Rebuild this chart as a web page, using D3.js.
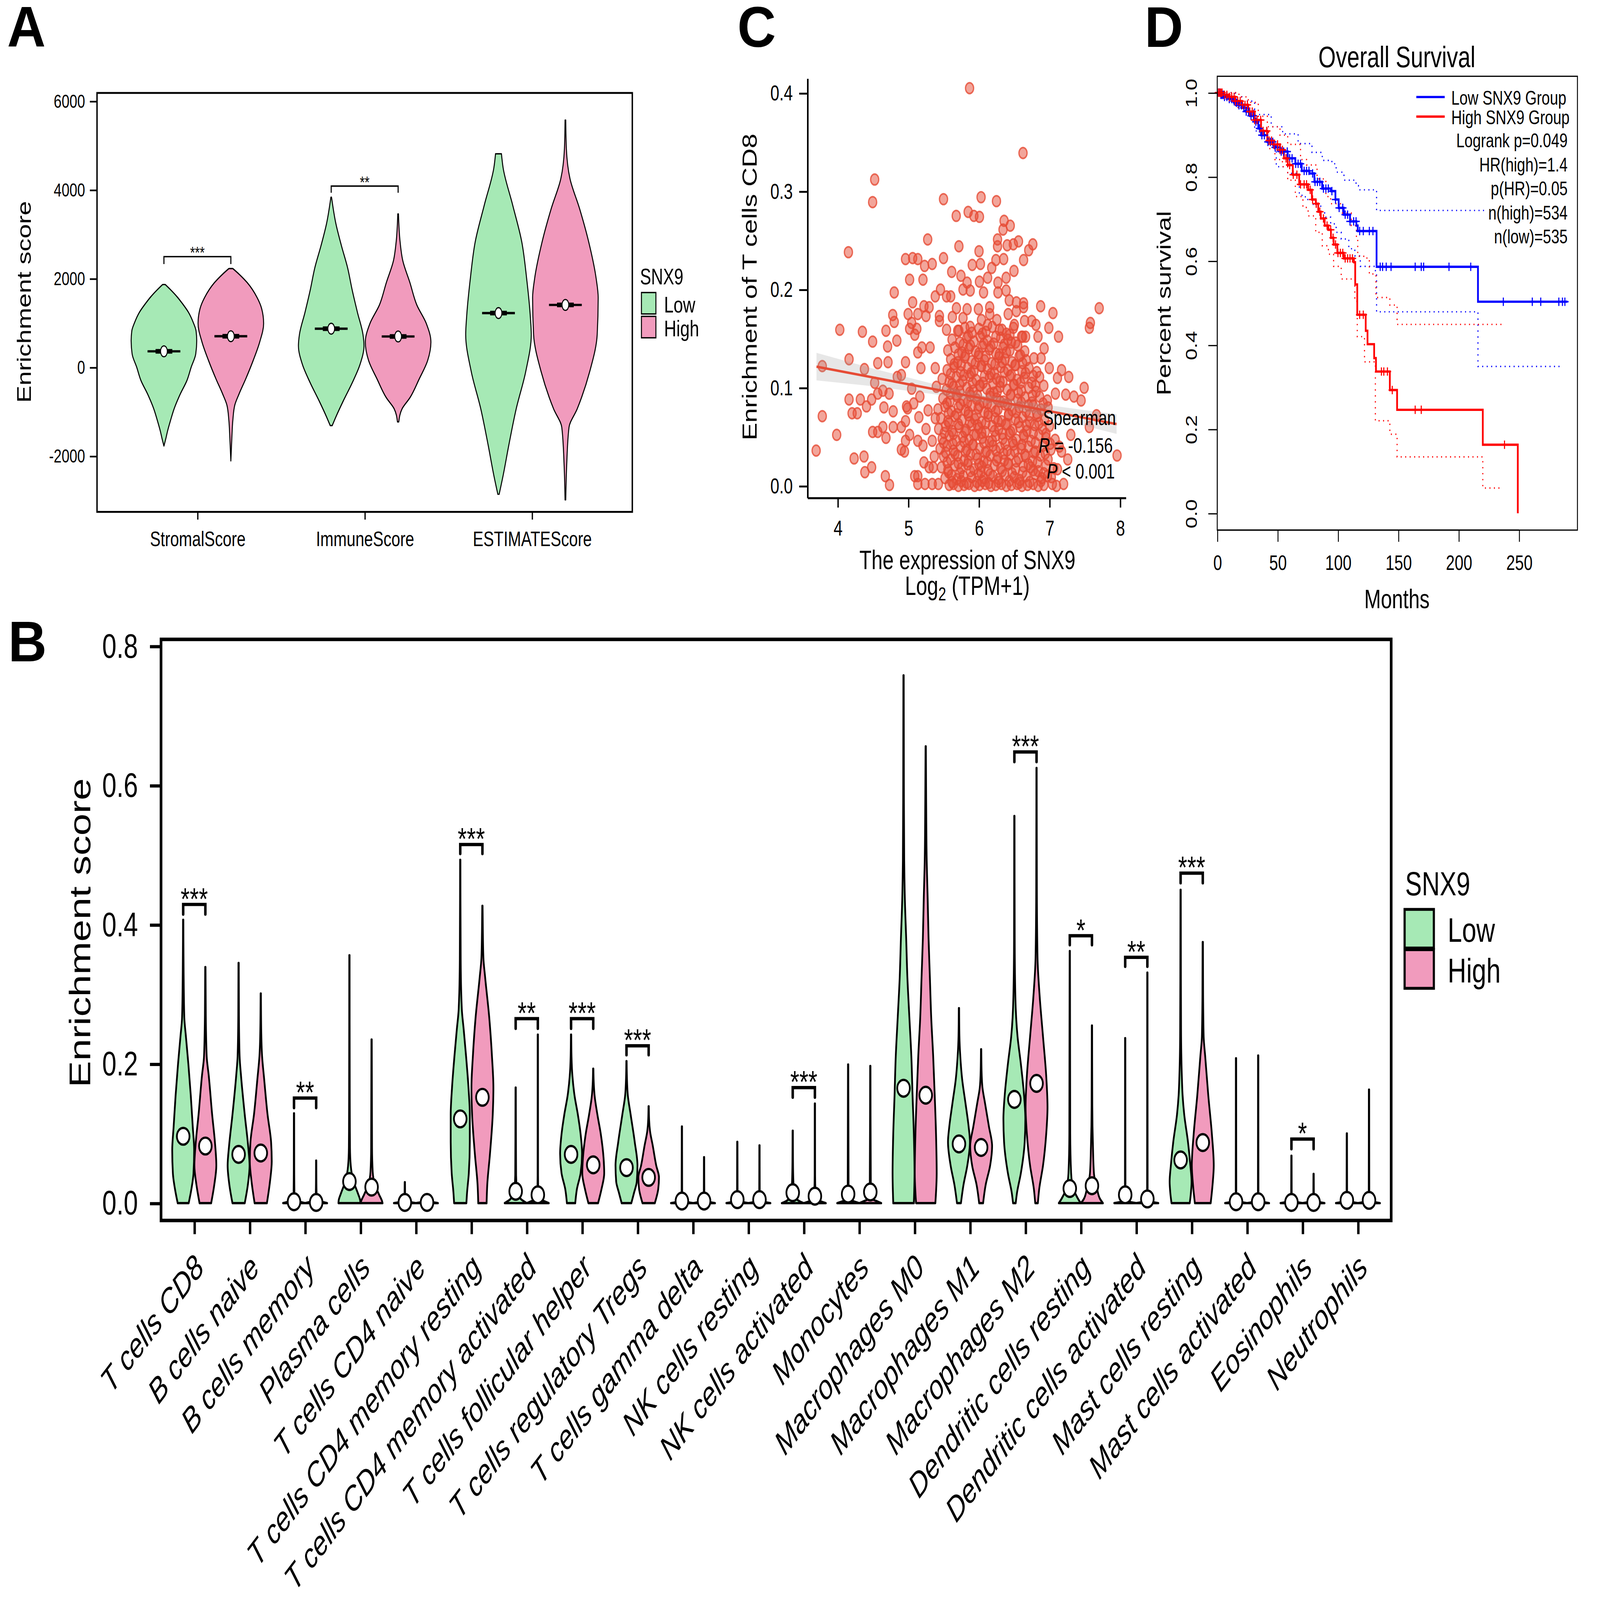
<!DOCTYPE html>
<html>
<head>
<meta charset="utf-8">
<title>SNX9 and immune infiltration</title>
<script src="https://cdn.jsdelivr.net/npm/d3@7/dist/d3.min.js"></script>
<style>
  html, body { margin: 0; padding: 0; background: #fff; overflow: hidden; }
  #figure svg { display: block; width: 100vw; height: 100vh; }
  svg text { font-family: "Liberation Sans", Arial, Helvetica, sans-serif; }
</style>
</head>
<body>
<div id="figure"></div>
<script>
// ---------------- panel A : ESTIMATE scores ----------------
const scoreTypes = ["StromalScore", "ImmuneScore", "ESTIMATEScore"];
const groups = ["Low", "High"];
const groupColors = ["#a6e9b5", "#f19bbd"];
const aTicks = [-2000, 0, 2000, 4000, 6000];

// violin outlines: [score, relative half width]
const stromalLow   = [[-1774,0],[-1600,0.06],[-1439,0.11],[-1200,0.2],[-937,0.31],[-600,0.5],[-300,0.7],[0,0.83],[300,0.97],[600,1],[820,0.98],[1000,0.9],[1238,0.75],[1450,0.55],[1573,0.42],[1750,0.2],[1866,0.04]];
const stromalHigh  = [[-2109,0],[-1600,0.03],[-1200,0.06],[-853,0.12],[-602,0.25],[-268,0.45],[151,0.68],[569,0.88],[987,1],[1322,0.94],[1573,0.8],[1908,0.5],[2100,0.25],[2226,0.06]];
const immuneLow    = [[-1314,0.03],[-1105,0.15],[-770,0.36],[-351,0.64],[67,0.88],[485,1],[736,0.97],[1238,0.8],[1741,0.64],[2243,0.5],[2745,0.31],[3247,0.14],[3833,0.01]];
const immuneHigh   = [[-1230,0.02],[-937,0.12],[-686,0.36],[-268,0.64],[151,0.9],[569,1],[987,0.86],[1406,0.57],[1908,0.36],[2410,0.14],[2828,0.06],[3456,0.01]];
const estimateLow  = [[-2862,0.02],[-2444,0.14],[-1774,0.31],[-937,0.54],[-100,0.83],[736,1],[1155,0.97],[1992,0.86],[2828,0.71],[3665,0.43],[4502,0.14],[4812,0.09]];
const estimateHigh = [[-2988,0.01],[-2193,0.04],[-1356,0.11],[-937,0.36],[-100,0.74],[736,0.97],[1573,1],[1992,0.94],[2828,0.71],[3582,0.43],[4251,0.14],[4920,0.03],[5573,0.01]];
const aMediansLow  = [360, 870, 1222];
const aMediansHigh = [700, 695, 1406];
const aSigScore = ["StromalScore", "ImmuneScore"];
const aSigLabel = ["***", "**"];
const aSigTop   = [2494, 4084];
const aSigLeg   = [2326, 3933];

// ---------------- panel B : CIBERSORT cell types ----------------
const cellTypes = ["T cells CD8","B cells naive","B cells memory","Plasma cells","T cells CD4 naive",
  "T cells CD4 memory resting","T cells CD4 memory activated","T cells follicular helper",
  "T cells regulatory Tregs","T cells gamma delta","NK cells resting","NK cells activated",
  "Monocytes","Macrophages M0","Macrophages M1","Macrophages M2","Dendritic cells resting",
  "Dendritic cells activated","Mast cells resting","Mast cells activated","Eosinophils","Neutrophils"];
const bTicks = [0, 0.2, 0.4, 0.6, 0.8];
const bLowProfiles = [
  [[0,0.5],[0.015,0.69],[0.043,0.94],[0.076,1],[0.11,0.87],[0.155,0.69],[0.2,0.47],[0.239,0.25],[0.267,0.1],[0.33,0.04],[0.407,0.015]],
  [[0,0.56],[0.026,0.84],[0.054,1],[0.082,0.87],[0.127,0.56],[0.183,0.22],[0.211,0.09],[0.27,0.03],[0.345,0.015]],
  [[0,1],[0.002,0.5],[0.005,0.12],[0.012,0.04],[0.05,0.02],[0.129,0.015]],
  [[0,1],[0.004,0.98],[0.015,0.75],[0.031,0.38],[0.054,0.12],[0.08,0.05],[0.15,0.03],[0.356,0.015]],
  [[0,1],[0.001,0.6],[0.003,0.1],[0.008,0.03],[0.03,0.015]],
  [[0,0.56],[0.015,0.62],[0.043,0.78],[0.088,0.87],[0.127,0.87],[0.166,0.75],[0.211,0.53],[0.25,0.31],[0.279,0.14],[0.35,0.04],[0.493,0.015]],
  [[0,1],[0.002,0.8],[0.006,0.47],[0.02,0.12],[0.04,0.04],[0.166,0.015]],
  [[0,0.38],[0.02,0.53],[0.043,0.87],[0.071,1],[0.099,0.87],[0.127,0.62],[0.155,0.31],[0.183,0.12],[0.21,0.04],[0.242,0.015]],
  [[0,0.44],[0.015,0.69],[0.031,0.94],[0.054,1],[0.088,0.75],[0.127,0.38],[0.155,0.12],[0.18,0.04],[0.204,0.015]],
  [[0,1],[0.001,0.6],[0.003,0.1],[0.01,0.025],[0.11,0.015]],
  [[0,1],[0.001,0.6],[0.003,0.1],[0.01,0.025],[0.088,0.015]],
  [[0,1],[0.002,0.7],[0.006,0.35],[0.015,0.15],[0.031,0.06],[0.06,0.025],[0.104,0.015]],
  [[0,1],[0.002,0.6],[0.005,0.15],[0.015,0.04],[0.199,0.015]],
  [[0,0.94],[0.043,1],[0.099,0.94],[0.155,0.82],[0.211,0.71],[0.267,0.53],[0.324,0.35],[0.38,0.24],[0.436,0.12],[0.492,0.06],[0.6,0.03],[0.758,0.015]],
  [[0,0.18],[0.026,0.41],[0.054,0.76],[0.088,1],[0.11,0.88],[0.144,0.59],[0.178,0.29],[0.211,0.12],[0.24,0.04],[0.28,0.015]],
  [[0,0.12],[0.015,0.24],[0.043,0.59],[0.088,0.94],[0.121,1],[0.155,0.88],[0.2,0.59],[0.239,0.29],[0.296,0.09],[0.38,0.03],[0.556,0.015]],
  [[0,1],[0.006,0.76],[0.02,0.35],[0.043,0.12],[0.1,0.04],[0.362,0.015]],
  [[0,1],[0.001,0.6],[0.003,0.1],[0.01,0.025],[0.237,0.015]],
  [[0,0.83],[0.015,0.94],[0.031,1],[0.054,0.89],[0.088,0.67],[0.127,0.33],[0.155,0.18],[0.183,0.11],[0.25,0.04],[0.45,0.015]],
  [[0,1],[0.001,0.6],[0.003,0.1],[0.01,0.025],[0.208,0.015]],
  [[0,1],[0.001,0.6],[0.003,0.1],[0.01,0.025],[0.068,0.015]],
  [[0,1],[0.001,0.6],[0.003,0.1],[0.01,0.025],[0.1,0.015]]
];
const bHighProfiles = [
  [[0,0.53],[0.026,0.81],[0.054,1],[0.088,0.87],[0.127,0.62],[0.183,0.31],[0.211,0.12],[0.27,0.04],[0.339,0.015]],
  [[0,0.56],[0.031,0.84],[0.06,1],[0.088,0.94],[0.127,0.62],[0.178,0.31],[0.211,0.12],[0.25,0.04],[0.301,0.015]],
  [[0,1],[0.002,0.5],[0.005,0.12],[0.012,0.04],[0.03,0.02],[0.061,0.015]],
  [[0,1],[0.003,0.95],[0.012,0.69],[0.026,0.31],[0.045,0.1],[0.08,0.04],[0.235,0.015]],
  [[0,1],[0.001,0.6],[0.002,0.1],[0.006,0.015]],
  [[0,0.38],[0.026,0.44],[0.071,0.69],[0.127,0.94],[0.166,1],[0.211,0.87],[0.267,0.62],[0.324,0.25],[0.352,0.09],[0.39,0.04],[0.427,0.015]],
  [[0,1],[0.002,0.7],[0.005,0.3],[0.012,0.06],[0.04,0.02],[0.242,0.015]],
  [[0,0.44],[0.02,0.75],[0.043,1],[0.065,0.94],[0.099,0.69],[0.127,0.38],[0.155,0.12],[0.175,0.04],[0.193,0.015]],
  [[0,0.56],[0.02,0.87],[0.037,0.94],[0.054,0.69],[0.082,0.38],[0.104,0.12],[0.12,0.04],[0.139,0.015]],
  [[0,1],[0.001,0.6],[0.003,0.1],[0.01,0.025],[0.066,0.015]],
  [[0,1],[0.001,0.6],[0.003,0.1],[0.01,0.025],[0.083,0.015]],
  [[0,1],[0.002,0.6],[0.005,0.2],[0.015,0.06],[0.04,0.02],[0.143,0.015]],
  [[0,1],[0.002,0.7],[0.006,0.2],[0.015,0.05],[0.197,0.015]],
  [[0,0.88],[0.043,1],[0.099,0.94],[0.155,0.82],[0.211,0.68],[0.267,0.5],[0.324,0.38],[0.38,0.26],[0.436,0.18],[0.492,0.09],[0.58,0.04],[0.656,0.015]],
  [[0,0.18],[0.026,0.41],[0.054,0.82],[0.082,1],[0.11,0.71],[0.144,0.35],[0.166,0.12],[0.19,0.04],[0.221,0.015]],
  [[0,0.12],[0.02,0.24],[0.054,0.59],[0.099,0.88],[0.138,1],[0.183,0.88],[0.239,0.59],[0.296,0.29],[0.352,0.09],[0.45,0.03],[0.625,0.015]],
  [[0,1],[0.006,0.74],[0.02,0.47],[0.043,0.18],[0.082,0.09],[0.14,0.03],[0.255,0.015]],
  [[0,1],[0.001,0.6],[0.003,0.1],[0.01,0.025],[0.331,0.015]],
  [[0,0.72],[0.026,0.89],[0.054,1],[0.099,0.83],[0.155,0.5],[0.211,0.22],[0.239,0.08],[0.3,0.03],[0.375,0.015]],
  [[0,1],[0.001,0.6],[0.003,0.1],[0.01,0.025],[0.212,0.015]],
  [[0,1],[0.001,0.6],[0.003,0.1],[0.01,0.025],[0.042,0.015]],
  [[0,1],[0.001,0.6],[0.003,0.1],[0.01,0.025],[0.163,0.015]]
];
const bLowMedians  = [0.096,0.07,0.002,0.031,0.001,0.121,0.017,0.07,0.051,0.003,0.005,0.015,0.013,0.165,0.085,0.149,0.021,0.012,0.062,0.002,0.001,0.004];
const bHighMedians = [0.082,0.072,0.001,0.023,0.001,0.152,0.012,0.055,0.037,0.003,0.005,0.01,0.016,0.155,0.08,0.172,0.025,0.006,0.087,0.002,0.001,0.004];
const bSigCell  = ["T cells CD8","B cells memory","T cells CD4 memory resting","T cells CD4 memory activated",
  "T cells follicular helper","T cells regulatory Tregs","NK cells activated","Macrophages M2",
  "Dendritic cells resting","Dendritic cells activated","Mast cells resting","Eosinophils"];
const bSigLabel = ["***","**","***","**","***","***","***","***","*","**","***","*"];
const bSigTop   = [0.429,0.151,0.515,0.265,0.265,0.226,0.166,0.648,0.384,0.353,0.474,0.092];
const bSigLeg   = [0.415,0.137,0.502,0.251,0.251,0.213,0.152,0.634,0.371,0.340,0.460,0.078];

// ---------------- panel C : SNX9 vs CD8 T cells ----------------
const cXTicks = [4, 5, 6, 7, 8];
const cYTicks = [0, 0.1, 0.2, 0.3, 0.4];
const cPoints = [
  [5.868,0.405],[6.625,0.339],[4.524,0.312],[4.495,0.289],[5.499,0.292],[6.031,0.294],[6.249,0.290],
  [5.679,0.275],[5.848,0.279],[5.929,0.275],[6.008,0.274],[6.357,0.270],[6.444,0.265],[6.342,0.261],
  [5.275,0.251],[6.264,0.251],[6.561,0.249],[6.401,0.245],[6.488,0.246],[6.764,0.246],[6.706,0.240],
  [4.152,0.238],[5.717,0.244],[6.264,0.244],[6.002,0.239],[4.961,0.231],[5.062,0.232],[5.135,0.231],
  [5.499,0.232],[6.241,0.230],[6.351,0.231],[6.633,0.230],[5.339,0.226],[5.231,0.224],[5.906,0.225],
  [6.022,0.226],[6.182,0.222],[6.497,0.219],[5.615,0.218],[5.746,0.214],[5.019,0.210],[5.208,0.210],
  [5.833,0.207],[6.008,0.208],[6.124,0.212],[6.386,0.212],[6.270,0.207],[4.801,0.197],[5.456,0.200],
  [5.775,0.200],[5.877,0.199],[6.066,0.197],[6.270,0.197],[6.386,0.199],[5.382,0.193],[5.542,0.193],
  [5.601,0.193],[5.062,0.187],[5.222,0.183],[5.295,0.182],[6.430,0.189],[6.532,0.187],[6.633,0.186],
  [6.633,0.182],[6.875,0.183],[7.049,0.176],[7.704,0.181],[5.682,0.181],[5.833,0.180],[5.993,0.180],
  [6.153,0.182],[4.780,0.174],[4.998,0.175],[5.135,0.175],[5.251,0.173],[5.441,0.173],[4.801,0.167],
  [5.048,0.166],[5.121,0.160],[5.019,0.160],[7.579,0.166],[7.565,0.161],[5.441,0.168],[5.624,0.172],
  [5.775,0.171],[6.037,0.169],[6.153,0.175],[6.255,0.169],[6.415,0.175],[6.531,0.178],[6.647,0.168],
  [6.749,0.168],[6.808,0.164],[6.991,0.161],[4.030,0.159],[4.350,0.157],[4.684,0.158],[5.092,0.154],
  [4.495,0.147],[4.838,0.148],[4.707,0.142],[7.128,0.152],[6.604,0.152],[6.662,0.152],[6.837,0.152],
  [5.542,0.159],[5.717,0.158],[5.877,0.162],[6.124,0.164],[6.328,0.159],[6.502,0.164],[4.161,0.129],
  [3.782,0.122],[4.379,0.119],[4.568,0.125],[4.713,0.126],[4.961,0.126],[5.193,0.141],[5.135,0.136],
  [5.309,0.141],[5.382,0.120],[5.179,0.120],[4.524,0.105],[4.640,0.097],[4.161,0.088],[4.321,0.088],
  [4.408,0.081],[4.481,0.088],[4.568,0.094],[4.204,0.074],[4.277,0.074],[3.782,0.071],[3.986,0.052],
  [3.695,0.036],[4.233,0.028],[4.373,0.030],[4.385,0.014],[4.481,0.019],[4.675,0.010],[4.734,0.001],
  [7.957,0.031],[7.491,0.100],[7.171,0.118],[7.273,0.111],[7.346,0.091],[7.448,0.087],[7.230,0.093],
  [6.997,0.120],[7.113,0.110],[7.084,0.094],[7.302,0.052],[7.564,0.060],[7.666,0.072],[7.171,0.035],
  [7.259,0.027],[7.113,0.017],[7.026,0.009],[7.200,0.002],[7.099,0.000],[6.924,0.140],[6.881,0.130],
  [4.844,0.111],[4.902,0.113],[4.728,0.094],[4.655,0.080],[4.786,0.076],[4.902,0.060],[4.961,0.066],
  [5.019,0.052],[4.495,0.055],[4.568,0.055],[4.684,0.049],[4.640,0.060],[4.786,0.060],[4.961,0.046],
  [4.902,0.037],[4.946,0.035],[5.091,0.010],[5.135,0.002],[5.237,0.002],[5.339,0.002],[5.426,0.002],
  [5.135,0.010],[5.222,0.024],[5.295,0.019],[5.353,0.019],[5.208,0.041],[5.135,0.046],[5.251,0.058],
  [5.150,0.070],[4.990,0.079],[5.077,0.084],[5.164,0.091],[5.048,0.099],[4.975,0.081],[5.397,0.101],
  [5.281,0.077],[5.382,0.069],[5.339,0.046],[5.368,0.030],
  // dense core
  [5.58,0.001],[5.64,0.002],[5.71,0.000],[5.79,0.001],[5.86,0.002],[5.94,0.000],[6.01,0.001],[6.09,0.002],
  [6.17,0.000],[6.24,0.001],[6.32,0.002],[6.39,0.000],[6.46,0.001],[6.54,0.002],[6.61,0.000],[6.69,0.001],
  [6.77,0.002],[6.84,0.000],[6.92,0.001],[7.04,0.002],
  [5.52,0.008],[5.61,0.011],[5.69,0.007],[5.78,0.010],[5.90,0.009],[5.99,0.012],[6.07,0.008],[6.20,0.010],
  [6.28,0.007],[6.37,0.011],[6.50,0.009],[6.58,0.006],[6.67,0.010],[6.80,0.012],[6.89,0.008],[6.97,0.010],
  [5.47,0.019],[5.56,0.016],[5.66,0.021],[5.75,0.018],[5.84,0.022],[5.93,0.017],[6.04,0.020],[6.13,0.016],
  [6.22,0.021],[6.31,0.018],[6.42,0.022],[6.52,0.017],[6.63,0.020],[6.73,0.019],[6.84,0.015],[6.95,0.021],[7.06,0.018],
  [5.50,0.030],[5.60,0.027],[5.70,0.031],[5.79,0.026],[5.88,0.032],[5.98,0.028],[6.07,0.025],[6.16,0.031],
  [6.27,0.029],[6.36,0.026],[6.45,0.032],[6.56,0.028],[6.66,0.030],[6.76,0.025],[6.87,0.031],[6.98,0.027],
  [5.45,0.038],[5.55,0.041],[5.64,0.036],[5.74,0.040],[5.83,0.037],[5.92,0.042],[6.01,0.038],[6.11,0.035],
  [6.20,0.041],[6.30,0.039],[6.40,0.036],[6.49,0.042],[6.60,0.038],[6.70,0.040],[6.80,0.035],[6.91,0.041],
  [7.02,0.037],[7.14,0.040],
  [5.48,0.048],[5.58,0.051],[5.68,0.046],[5.77,0.050],[5.86,0.047],[5.96,0.052],[6.05,0.049],[6.15,0.045],
  [6.24,0.051],[6.34,0.048],[6.43,0.053],[6.53,0.047],[6.64,0.050],[6.74,0.046],[6.85,0.052],[6.95,0.049],[7.08,0.047],
  [5.43,0.058],[5.53,0.061],[5.62,0.056],[5.72,0.060],[5.82,0.057],[5.90,0.062],[6.00,0.059],[6.09,0.055],
  [6.19,0.061],[6.28,0.058],[6.38,0.063],[6.48,0.057],[6.58,0.060],[6.68,0.056],[6.79,0.062],[6.90,0.058],[7.00,0.061],
  [5.46,0.069],[5.56,0.066],[5.66,0.071],[5.76,0.067],[5.85,0.072],[5.94,0.068],[6.04,0.065],[6.13,0.071],
  [6.23,0.069],[6.32,0.066],[6.42,0.072],[6.52,0.068],[6.62,0.070],[6.72,0.065],[6.83,0.071],[6.93,0.067],
  [5.42,0.078],[5.52,0.081],[5.61,0.076],[5.71,0.080],[5.81,0.077],[5.90,0.082],[5.99,0.079],[6.08,0.075],
  [6.18,0.081],[6.27,0.078],[6.37,0.083],[6.47,0.077],[6.57,0.080],[6.67,0.076],[6.77,0.082],[6.88,0.078],[6.98,0.080],
  [5.49,0.089],[5.59,0.086],[5.69,0.091],[5.78,0.087],[5.88,0.092],[5.97,0.088],[6.06,0.085],[6.16,0.091],
  [6.25,0.089],[6.35,0.086],[6.45,0.092],[6.55,0.088],[6.65,0.090],[6.75,0.085],[6.86,0.091],[6.97,0.087],
  [5.54,0.098],[5.64,0.101],[5.73,0.096],[5.83,0.100],[5.92,0.097],[6.02,0.102],[6.11,0.099],[6.21,0.095],
  [6.30,0.101],[6.40,0.098],[6.50,0.103],[6.60,0.097],[6.71,0.100],[6.81,0.096],[6.92,0.102],
  [5.48,0.109],[5.58,0.106],[5.68,0.111],[5.77,0.107],[5.87,0.112],[5.96,0.108],[6.06,0.105],[6.15,0.111],
  [6.25,0.109],[6.34,0.106],[6.44,0.112],[6.54,0.108],[6.64,0.110],[6.75,0.105],[6.86,0.111],
  [5.55,0.118],[5.65,0.121],[5.74,0.116],[5.84,0.120],[5.93,0.117],[6.03,0.122],[6.12,0.119],[6.22,0.115],
  [6.31,0.121],[6.41,0.118],[6.51,0.123],[6.61,0.117],[6.71,0.120],[6.82,0.116],
  [5.60,0.129],[5.70,0.126],[5.80,0.131],[5.90,0.127],[5.99,0.132],[6.08,0.128],[6.18,0.125],[6.28,0.131],
  [6.37,0.129],[6.47,0.126],[6.57,0.132],[6.67,0.128],[6.78,0.130],
  [5.56,0.138],[5.66,0.141],[5.76,0.136],[5.86,0.140],[5.95,0.137],[6.05,0.142],[6.15,0.139],[6.24,0.135],
  [6.34,0.141],[6.44,0.138],[6.55,0.143],[6.65,0.137],
  [5.62,0.149],[5.73,0.146],[5.83,0.151],[5.93,0.147],[6.02,0.152],[6.12,0.148],[6.21,0.145],[6.31,0.151],
  [6.41,0.149],[6.52,0.146],[6.62,0.152],
  [5.70,0.158],[5.80,0.161],[5.90,0.156],[6.00,0.160],[6.10,0.157],[6.19,0.162],[6.29,0.159],[6.39,0.155],[6.49,0.161],
  // second layer of the core
  [5.62,0.004],[5.75,0.005],[5.83,0.003],[5.97,0.004],[6.05,0.005],[6.14,0.003],[6.28,0.004],[6.43,0.005],
  [6.57,0.003],[6.72,0.004],[6.88,0.005],
  [5.57,0.014],[5.73,0.013],[5.88,0.015],[6.03,0.014],[6.16,0.012],[6.33,0.015],[6.47,0.013],[6.62,0.014],
  [6.77,0.016],[6.92,0.013],
  [5.55,0.024],[5.71,0.023],[5.85,0.025],[6.00,0.022],[6.12,0.024],[6.25,0.026],[6.41,0.023],[6.53,0.025],
  [6.70,0.022],[6.83,0.024],
  [5.53,0.034],[5.66,0.033],[5.81,0.035],[5.96,0.032],[6.09,0.034],[6.24,0.036],[6.35,0.033],[6.51,0.035],
  [6.65,0.032],[6.78,0.034],[6.94,0.033],
  [5.50,0.044],[5.63,0.043],[5.79,0.045],[5.91,0.042],[6.07,0.044],[6.19,0.046],[6.37,0.043],[6.48,0.045],
  [6.61,0.042],[6.80,0.044],[7.01,0.043],
  [5.51,0.054],[5.64,0.053],[5.80,0.055],[5.93,0.052],[6.04,0.054],[6.22,0.056],[6.33,0.053],[6.45,0.055],
  [6.63,0.052],[6.77,0.054],[6.95,0.053],
  [5.58,0.064],[5.71,0.063],[5.87,0.065],[5.98,0.062],[6.10,0.064],[6.27,0.066],[6.40,0.063],[6.56,0.065],
  [6.67,0.062],[6.85,0.064],
  [5.57,0.074],[5.69,0.073],[5.85,0.075],[5.96,0.072],[6.13,0.074],[6.24,0.076],[6.42,0.073],[6.53,0.075],
  [6.71,0.072],[6.82,0.074],
  [5.55,0.084],[5.74,0.083],[5.84,0.085],[6.01,0.082],[6.12,0.084],[6.30,0.086],[6.41,0.083],[6.60,0.085],
  [6.70,0.082],[6.91,0.084],
  [5.60,0.094],[5.68,0.093],[5.87,0.095],[5.98,0.092],[6.16,0.094],[6.26,0.096],[6.45,0.093],[6.56,0.095],[6.76,0.092],
  [5.62,0.104],[5.73,0.103],[5.91,0.105],[6.01,0.102],[6.20,0.104],[6.30,0.106],[6.49,0.103],[6.59,0.105],[6.80,0.102],
  [5.60,0.114],[5.79,0.113],[5.89,0.115],[6.08,0.112],[6.17,0.114],[6.36,0.116],[6.46,0.113],[6.66,0.115],[6.77,0.112],
  [5.65,0.124],[5.75,0.123],[5.95,0.125],[6.04,0.122],[6.23,0.124],[6.33,0.126],[6.52,0.123],[6.62,0.125],
  [5.71,0.134],[5.81,0.133],[6.00,0.135],[6.10,0.132],[6.29,0.134],[6.39,0.136],[6.59,0.133],
  [5.78,0.144],[5.88,0.143],[6.07,0.145],[6.17,0.142],[6.36,0.144],[6.46,0.146],
  [5.85,0.153],[6.05,0.155],[6.24,0.152],[6.44,0.154]
];
const cFit  = [[3.7,0.1215],[7.95,0.063]];
const cBand = [[3.7,0.1075,0.1355],[4.5,0.1015,0.1195],[5.5,0.0922,0.1012],[6.0,0.0859,0.0939],
               [6.5,0.0785,0.0875],[7.0,0.0701,0.0821],[7.5,0.0612,0.0772],[7.95,0.053,0.073]];

// ---------------- panel D : overall survival ----------------
const dXTicks = [0, 50, 100, 150, 200, 250];
const dYTicks = [0, 0.2, 0.4, 0.6, 0.8, 1.0];
const lowKM = [[0,1],[3,0.995],[6,0.99],[10,0.985],[13,0.98],[15,0.976],[18,0.97],[20.5,0.964],[24,0.955],
  [27,0.945],[31,0.931],[34,0.915],[36.3,0.899],[41.5,0.883],[46.8,0.870],[52,0.860],[58.4,0.844],
  [64.7,0.831],[70,0.814],[76.3,0.808],[80.5,0.788],[86.9,0.772],[94.2,0.766],[97.9,0.746],[100.6,0.726],
  [104.8,0.710],[110,0.694],[115.3,0.684],[116.4,0.671],[132,0.586],[216,0.503],[290,0.503]];
const highKM = [[0,1],[5,0.995],[9.9,0.99],[15,0.98],[20.5,0.971],[25.7,0.955],[31,0.935],[36.3,0.909],
  [41.5,0.886],[46.8,0.877],[52,0.864],[55.3,0.844],[58.4,0.828],[62.6,0.805],[67.9,0.782],[75.3,0.769],
  [78.4,0.746],[81.6,0.736],[83.7,0.717],[85.8,0.701],[89,0.684],[92.1,0.674],[94.2,0.655],[96.4,0.639],
  [99.5,0.619],[104.8,0.606],[113.2,0.597],[114.3,0.544],[116,0.472],[123,0.434],[124.5,0.402],[130,0.369],
  [131.5,0.337],[143,0.293],[149,0.246],[220,0.163],[249,0.0]];
const lowUpper = [[0,1],[10,1],[15,0.99],[20.5,0.98],[31,0.948],[44.7,0.919],[54.2,0.902],[67,0.879],
  [78.5,0.858],[87,0.839],[95,0.831],[98.5,0.811],[105,0.792],[115,0.779],[117,0.769],[132,0.72],[223,0.72]];
const lowLower = [[0,1],[8,0.98],[14,0.97],[20.5,0.958],[31,0.909],[41.5,0.877],[48.9,0.824],[58.4,0.808],
  [68,0.756],[73,0.746],[79.5,0.730],[85.8,0.714],[89,0.704],[94,0.688],[98.5,0.668],[102.7,0.652],
  [109,0.629],[114,0.612],[118.5,0.587],[131,0.577],[132,0.479],[216,0.349],[285,0.349]];
const highUpper = [[0,1],[12,1],[18,0.99],[25.7,0.977],[34,0.944],[41.5,0.919],[52,0.899],[58.4,0.877],
  [69,0.841],[74,0.828],[82.7,0.795],[90,0.753],[94,0.736],[103.7,0.714],[111,0.684],[115.3,0.655],
  [116.4,0.611],[124,0.6],[126,0.569],[131.5,0.513],[143,0.495],[149,0.449],[237,0.449]];
const highLower = [[0,1],[8,0.98],[15,0.965],[25.7,0.948],[34,0.915],[42.6,0.867],[47.8,0.841],[54,0.824],
  [58.4,0.792],[64.7,0.753],[71,0.727],[75.3,0.707],[81.6,0.668],[87,0.636],[92.1,0.616],[96.4,0.587],
  [102.7,0.557],[114,0.504],[116,0.42],[122,0.36],[131,0.22],[143,0.188],[149,0.134],[220,0.06],[235,0.06]];
const lowCensor = [1,2,3,4,5,6,8,10,12,14,16,18,20,22,24,26,28,30,32,35,37,39,42,44,46,48,50,53,55,58,60,62,
  65,67,69,72,74,76,79,81,83,85,88,90,92,95,98,101,104,106,108,110,113,115,118,121,126,129,135,137,140,144,
  164,169,171,192,210,237,261,268,283,286,288];
const highCensor = [1,2,3,4,6,8,10,12,14,15,17,19,21,23,25,27,29,31,33,36,38,41,43,45,47,50,52,54,57,60,63,
  66,69,72,74,77,79,82,85,88,91,94,96,98,100,102,104,106,108,110,112,118,121,136,138,141,145,164,169,238];
const dLegend = ["Low SNX9 Group", "High SNX9 Group"];
const dStats = ["Logrank p=0.049", "HR(high)=1.4", "p(HR)=0.05", "n(high)=534", "n(low)=535"];

// ======================= drawing =======================
const SX = 0.81;            // the published figure is squeezed horizontally
const ix = v => v / SX;     // measured picture x -> inner x
const VW = 1560, VH = 1449.4;

const svg = d3.select("#figure").append("svg")
    .attr("viewBox", `0 0 ${VW} ${VH}`)
    .attr("preserveAspectRatio", "none");
svg.append("rect").attr("width", VW).attr("height", VH).attr("fill", "#fff");
const root = svg.append("g").attr("transform", `scale(${SX},1)`);

function violin(g, profile, cx, half, yScale, fill, sw) {
    const area = d3.area()
        .y(d => yScale(d[0]))
        .x0(d => cx - d[1] * half)
        .x1(d => cx + d[1] * half)
        .curve(d3.curveMonotoneY);
    g.append("path").attr("d", area(profile))
        .attr("fill", fill).attr("stroke", "#000")
        .attr("stroke-width", sw).attr("stroke-linejoin", "round");
}

function styleAxis(ax, size, sw) {
    ax.attr("font-size", size).attr("font-family", null);
    ax.selectAll(".tick line").attr("stroke-width", sw);
    ax.selectAll("text").attr("fill", "#000");
}

// ---------- A ----------
let vis = root.append("g");
const aLeft = ix(94.6), aRight = ix(616.5), aTop = 84.2, aBottom = 463.7;
const aX = d3.scalePoint().domain(scoreTypes).range([aLeft, aRight]).padding(0.6);
const aY = d3.scaleLinear().domain([-3259, 6184]).range([aBottom, aTop]);
const aDodge = aX.step() * 0.2;
const aProfiles = [[stromalLow, immuneLow, estimateLow], [stromalHigh, immuneHigh, estimateHigh]];
const aMedians = [aMediansLow, aMediansHigh];

scoreTypes.forEach((s, i) => {
    groups.forEach((grp, j) => {
        const cx = aX(s) + (j === 0 ? -aDodge : aDodge);
        violin(vis, aProfiles[j][i], cx, aDodge * 0.98, aY, groupColors[j], 1.2);
        const my = aY(aMedians[j][i]);
        vis.append("line")
            .attr("x1", cx - aX.step() * 0.098).attr("x2", cx + aX.step() * 0.098)
            .attr("y1", my).attr("y2", my)
            .attr("stroke", "#000").attr("stroke-width", 2.1);
        vis.append("rect")
            .attr("x", cx - aX.step() * 0.05).attr("width", aX.step() * 0.1)
            .attr("y", my - 2.1).attr("height", 4.2).attr("fill", "#000");
        vis.append("ellipse").attr("cx", cx).attr("cy", my)
            .attr("rx", ix(3.3)).attr("ry", 4.9)
            .attr("fill", "#fff").attr("stroke", "#000").attr("stroke-width", 1.1);
    });
});

aSigScore.forEach((s, i) => {
    const x1 = aX(s) - aDodge, x2 = aX(s) + aDodge;
    vis.append("path")
        .attr("d", `M${x1},${aY(aSigLeg[i])}V${aY(aSigTop[i])}H${x2}V${aY(aSigLeg[i])}`)
        .attr("fill", "none").attr("stroke", "#000").attr("stroke-width", 1.3);
    vis.append("text").attr("x", aX(s)).attr("y", aY(aSigTop[i]) + 1.5)
        .attr("text-anchor", "middle").attr("font-size", 15).text(aSigLabel[i]);
});

vis.append("rect").attr("x", aLeft).attr("y", aTop)
    .attr("width", aRight - aLeft).attr("height", aBottom - aTop)
    .attr("fill", "none").attr("stroke", "#000").attr("stroke-width", 1.7);

let ax = vis.append("g").attr("transform", `translate(${aLeft},0)`)
    .call(d3.axisLeft(aY).tickValues(aTicks).tickSize(ix(7)).tickPadding(ix(4.6)).tickFormat(d => String(d)));
ax.select(".domain").remove();
styleAxis(ax, 17, 1.5);

ax = vis.append("g").attr("transform", `translate(0,${aBottom})`)
    .call(d3.axisBottom(aX).tickSize(7).tickPadding(10.5));
ax.select(".domain").remove();
styleAxis(ax, 19, 1.5);

vis.append("text").attr("transform", `translate(${ix(30)},273.5) rotate(-90)`)
    .attr("text-anchor", "middle").attr("font-size", 23.5).text("Enrichment score");

vis.append("text").attr("x", ix(624)).attr("y", 257.7).attr("font-size", 20).text("SNX9");
groups.forEach((grp, j) => {
    const ky = [265, 286.6][j];
    vis.append("rect").attr("x", ix(625.4)).attr("y", ky)
        .attr("width", ix(14.1)).attr("height", 19.4)
        .attr("fill", groupColors[j]).attr("stroke", "#000").attr("stroke-width", 1.2);
    vis.append("text").attr("x", ix(647.5)).attr("y", [283, 304.7][j])
        .attr("font-size", 20.5).text(grp);
});

// ---------- B ----------
vis = root.append("g");
const bLeft = ix(157), bRight = ix(1356.4), bTop = 579.2, bBottom = 1105.6;
const bX = d3.scalePoint().domain(cellTypes).range([bLeft, bRight]).padding(0.6);
const bY = d3.scaleLinear().domain([-0.0249, 0.8097]).range([bBottom, bTop]);
const bDodge = bX.step() * 0.2;
const bProfiles = [bLowProfiles, bHighProfiles];
const bMedians = [bLowMedians, bHighMedians];

cellTypes.forEach((c, i) => {
    groups.forEach((grp, j) => {
        const cx = bX(c) + (j === 0 ? -bDodge : bDodge);
        violin(vis, bProfiles[j][i], cx, bDodge * 0.99, bY, groupColors[j], 2.1);
    });
});
cellTypes.forEach((c, i) => {
    groups.forEach((grp, j) => {
        const cx = bX(c) + (j === 0 ? -bDodge : bDodge);
        vis.append("circle").attr("cx", cx).attr("cy", bY(bMedians[j][i])).attr("r", 7.6)
            .attr("fill", "#fff").attr("stroke", "#000").attr("stroke-width", 2.1);
    });
});

bSigCell.forEach((c, i) => {
    const x1 = bX(c) - bDodge, x2 = bX(c) + bDodge;
    vis.append("path")
        .attr("d", `M${x1},${bY(bSigLeg[i])}V${bY(bSigTop[i])}H${x2}V${bY(bSigLeg[i])}`)
        .attr("fill", "none").attr("stroke", "#000").attr("stroke-width", 3)
        .attr("stroke-linecap", "round");
    vis.append("text").attr("x", bX(c)).attr("y", bY(bSigTop[i]) + 4.7)
        .attr("text-anchor", "middle").attr("font-size", 28).text(bSigLabel[i]);
});

vis.append("rect").attr("x", bLeft).attr("y", bTop)
    .attr("width", bRight - bLeft).attr("height", bBottom - bTop)
    .attr("fill", "none").attr("stroke", "#000").attr("stroke-width", 3.2);

ax = vis.append("g").attr("transform", `translate(${bLeft},0)`)
    .call(d3.axisLeft(bY).tickValues(bTicks).tickSize(ix(10.8)).tickPadding(ix(11.7)).tickFormat(d3.format(".1f")));
ax.select(".domain").remove();
styleAxis(ax, 31, 2.9);

ax = vis.append("g").attr("transform", `translate(0,${bBottom})`)
    .call(d3.axisBottom(bX).tickSize(12.4).tickFormat(""));
ax.select(".domain").remove();
styleAxis(ax, 31, 2.9);

vis.selectAll(".cell-label").data(cellTypes).enter().append("text")
    .attr("class", "cell-label")
    .attr("transform", d => `translate(${bX(d) + 5.7},1142.4) rotate(-45)`)
    .attr("text-anchor", "end").attr("dy", "0.35em")
    .attr("font-size", 31).attr("font-style", "italic").text(d => d);

vis.append("text").attr("transform", `translate(${ix(88)},845) rotate(-90)`)
    .attr("text-anchor", "middle").attr("font-size", 36).text("Enrichment score");

vis.append("text").attr("x", ix(1370)).attr("y", 811).attr("font-size", 30).text("SNX9");
groups.forEach((grp, j) => {
    const ky = [823.8, 860.3][j];
    vis.append("rect").attr("x", ix(1369.5)).attr("y", ky)
        .attr("width", ix(28.5)).attr("height", 35)
        .attr("fill", groupColors[j]).attr("stroke", "#000").attr("stroke-width", 2.6);
    vis.append("text").attr("x", ix(1411.5)).attr("y", [853, 890][j])
        .attr("font-size", 31).text(grp);
});

// ---------- C ----------
vis = root.append("g");
const cX = d3.scaleLinear().domain([3.571, 8.08]).range([ix(787.2), ix(1097.6)]);
const cY = d3.scaleLinear().domain([-0.0119, 0.4151]).range([450.8, 70.9]);
const npgRed = "#E64B35";

vis.selectAll(".pt").data(cPoints).enter().append("circle")
    .attr("class", "pt")
    .attr("cx", d => cX(d[0])).attr("cy", d => cY(d[1])).attr("r", 4.9)
    .attr("fill", npgRed).attr("fill-opacity", 0.5)
    .attr("stroke", npgRed).attr("stroke-opacity", 0.8).attr("stroke-width", 1.5);

vis.append("path")
    .attr("d", d3.area().x(d => cX(d[0])).y0(d => cY(d[1])).y1(d => cY(d[2]))(cBand))
    .attr("fill", "#a0a0a0").attr("fill-opacity", 0.25);
vis.append("path")
    .attr("d", d3.line().x(d => cX(d[0])).y(d => cY(d[1]))(cFit))
    .attr("stroke", npgRed).attr("stroke-width", 2.2).attr("fill", "none");

ax = vis.append("g").attr("transform", `translate(${ix(787.2)},0)`)
    .call(d3.axisLeft(cY).tickValues(cYTicks).tickSize(ix(8)).tickSizeOuter(0)
        .tickPadding(ix(6.2)).tickFormat(d3.format(".1f")));
styleAxis(ax, 19.5, 1.7);
ax.select(".domain").attr("stroke-width", 1.9);

ax = vis.append("g").attr("transform", `translate(0,450.8)`)
    .call(d3.axisBottom(cX).tickValues(cXTicks).tickSize(9).tickSizeOuter(0).tickPadding(11.5)
        .tickFormat(d3.format("d")));
styleAxis(ax, 19.5, 1.7);
ax.select(".domain").attr("stroke-width", 1.9);

vis.append("text").attr("transform", `translate(${ix(737.6)},260) rotate(-90)`)
    .attr("text-anchor", "middle").attr("font-size", 24).text("Enrichment of T cells CD8");
vis.append("text").attr("x", ix(943.2)).attr("y", 515.6)
    .attr("text-anchor", "middle").attr("font-size", 24).text("The expression of SNX9");
let t = vis.append("text").attr("x", ix(943.2)).attr("y", 538.8)
    .attr("text-anchor", "middle").attr("font-size", 24);
t.append("tspan").text("Log");
t.append("tspan").attr("font-size", 17).attr("dy", 5).text("2");
t.append("tspan").attr("dy", -5).text(" (TPM+1)");

vis.append("text").attr("x", ix(1088)).attr("y", 385)
    .attr("text-anchor", "end").attr("font-size", 19).text("Spearman");
t = vis.append("text").attr("x", ix(1085)).attr("y", 410)
    .attr("text-anchor", "end").attr("font-size", 19);
t.append("tspan").attr("font-style", "italic").text("R");
t.append("tspan").text(" = -0.156");
t = vis.append("text").attr("x", ix(1087)).attr("y", 433.5)
    .attr("text-anchor", "end").attr("font-size", 19);
t.append("tspan").attr("font-style", "italic").text("P");
t.append("tspan").text(" < 0.001");

// ---------- D ----------
vis = root.append("g");
const dLeft = ix(1186.8), dRight = ix(1538), dTop = 69.1, dBottom = 480.2;
const dX = d3.scaleLinear().domain([0, 298.4]).range([dLeft, dRight]);
const dY = d3.scaleLinear().domain([-0.04, 1.039]).range([dBottom, dTop]);
const blue = "#0000ff", red = "#ff0000";
const km = d3.line().x(d => dX(d[0])).y(d => dY(d[1])).curve(d3.curveStepAfter);

[[lowUpper, blue], [lowLower, blue], [highUpper, red], [highLower, red]].forEach(([s, col]) => {
    vis.append("path").attr("d", km(s)).attr("fill", "none")
        .attr("stroke", col).attr("stroke-width", 1.3)
        .attr("stroke-dasharray", "1.2 4.2");
});
vis.append("path").attr("d", km(lowKM)).attr("fill", "none").attr("stroke", blue).attr("stroke-width", 2.1);
vis.append("path").attr("d", km(highKM)).attr("fill", "none").attr("stroke", red).attr("stroke-width", 2.1);

function stepAt(series, time) {
    let v = series[0][1];
    for (const [tt, vv] of series) { if (tt <= time) v = vv; else break; }
    return v;
}
[[lowCensor, lowKM, blue], [highCensor, highKM, red]].forEach(([times, s, col]) => {
    times.forEach(tm => {
        const px = dX(tm), py = dY(stepAt(s, tm));
        vis.append("path").attr("d", `M${px},${py - 3.8}V${py + 3.8}M${px - ix(3.6)},${py}H${px + ix(3.6)}`)
            .attr("stroke", col).attr("stroke-width", 1.3).attr("fill", "none");
    });
});

vis.append("rect").attr("x", dLeft).attr("y", dTop)
    .attr("width", dRight - dLeft).attr("height", dBottom - dTop)
    .attr("fill", "none").attr("stroke", "#000").attr("stroke-width", 1.1);

ax = vis.append("g").attr("transform", `translate(0,${dBottom})`)
    .call(d3.axisBottom(dX).tickValues(dXTicks).tickSize(10.6).tickPadding(12).tickFormat(d3.format("d")));
ax.select(".domain").attr("d", `M${dX(0)},0H${dX(250)}`).attr("stroke-width", 1.1);
styleAxis(ax, 19, 1.1);

ax = vis.append("g").attr("transform", `translate(${dLeft},0)`)
    .call(d3.axisLeft(dY).tickValues(dYTicks).tickSize(ix(8.7)).tickFormat(d3.format(".1f")));
ax.select(".domain").attr("d", `M0,${dY(0)}V${dY(1)}`).attr("stroke-width", 1.1);
styleAxis(ax, 19, 1.1);
ax.selectAll(".tick text")
    .attr("x", null).attr("dy", null).attr("text-anchor", "middle")
    .attr("transform", `translate(${-ix(19.8)},0) rotate(-90)`);

vis.append("text").attr("x", ix(1362)).attr("y", 61)
    .attr("text-anchor", "middle").attr("font-size", 27).text("Overall Survival");
vis.append("text").attr("x", ix(1362)).attr("y", 551)
    .attr("text-anchor", "middle").attr("font-size", 24).text("Months");
vis.append("text").attr("transform", `translate(${ix(1141.4)},274.7) rotate(-90)`)
    .attr("text-anchor", "middle").attr("font-size", 23.5).text("Percent survival");

dLegend.forEach((lab, i) => {
    const ly = [87.9, 105.6][i];
    vis.append("line").attr("x1", ix(1380.9)).attr("x2", ix(1408.6)).attr("y1", ly).attr("y2", ly)
        .attr("stroke", [blue, red][i]).attr("stroke-width", 2.1);
    vis.append("text").attr("x", ix(1415)).attr("y", [95, 112.7][i])
        .attr("font-size", 17.8).text(lab);
});
dStats.forEach((s, i) => {
    vis.append("text").attr("x", ix(1528.4)).attr("y", [133.5, 155.2, 177, 198.7, 220.4][i])
        .attr("text-anchor", "end").attr("font-size", 17.8).text(s);
});

// ---------- panel letters (not squeezed) ----------
const letters = [["A", 7, 42], ["B", 8, 599], ["C", 719, 42.5], ["D", 1116, 42.5]];
letters.forEach(([l, x, y]) => {
    svg.append("text").attr("x", x).attr("y", y)
        .attr("font-size", 52).attr("font-weight", "bold").text(l);
});
</script>
</body>
</html>
